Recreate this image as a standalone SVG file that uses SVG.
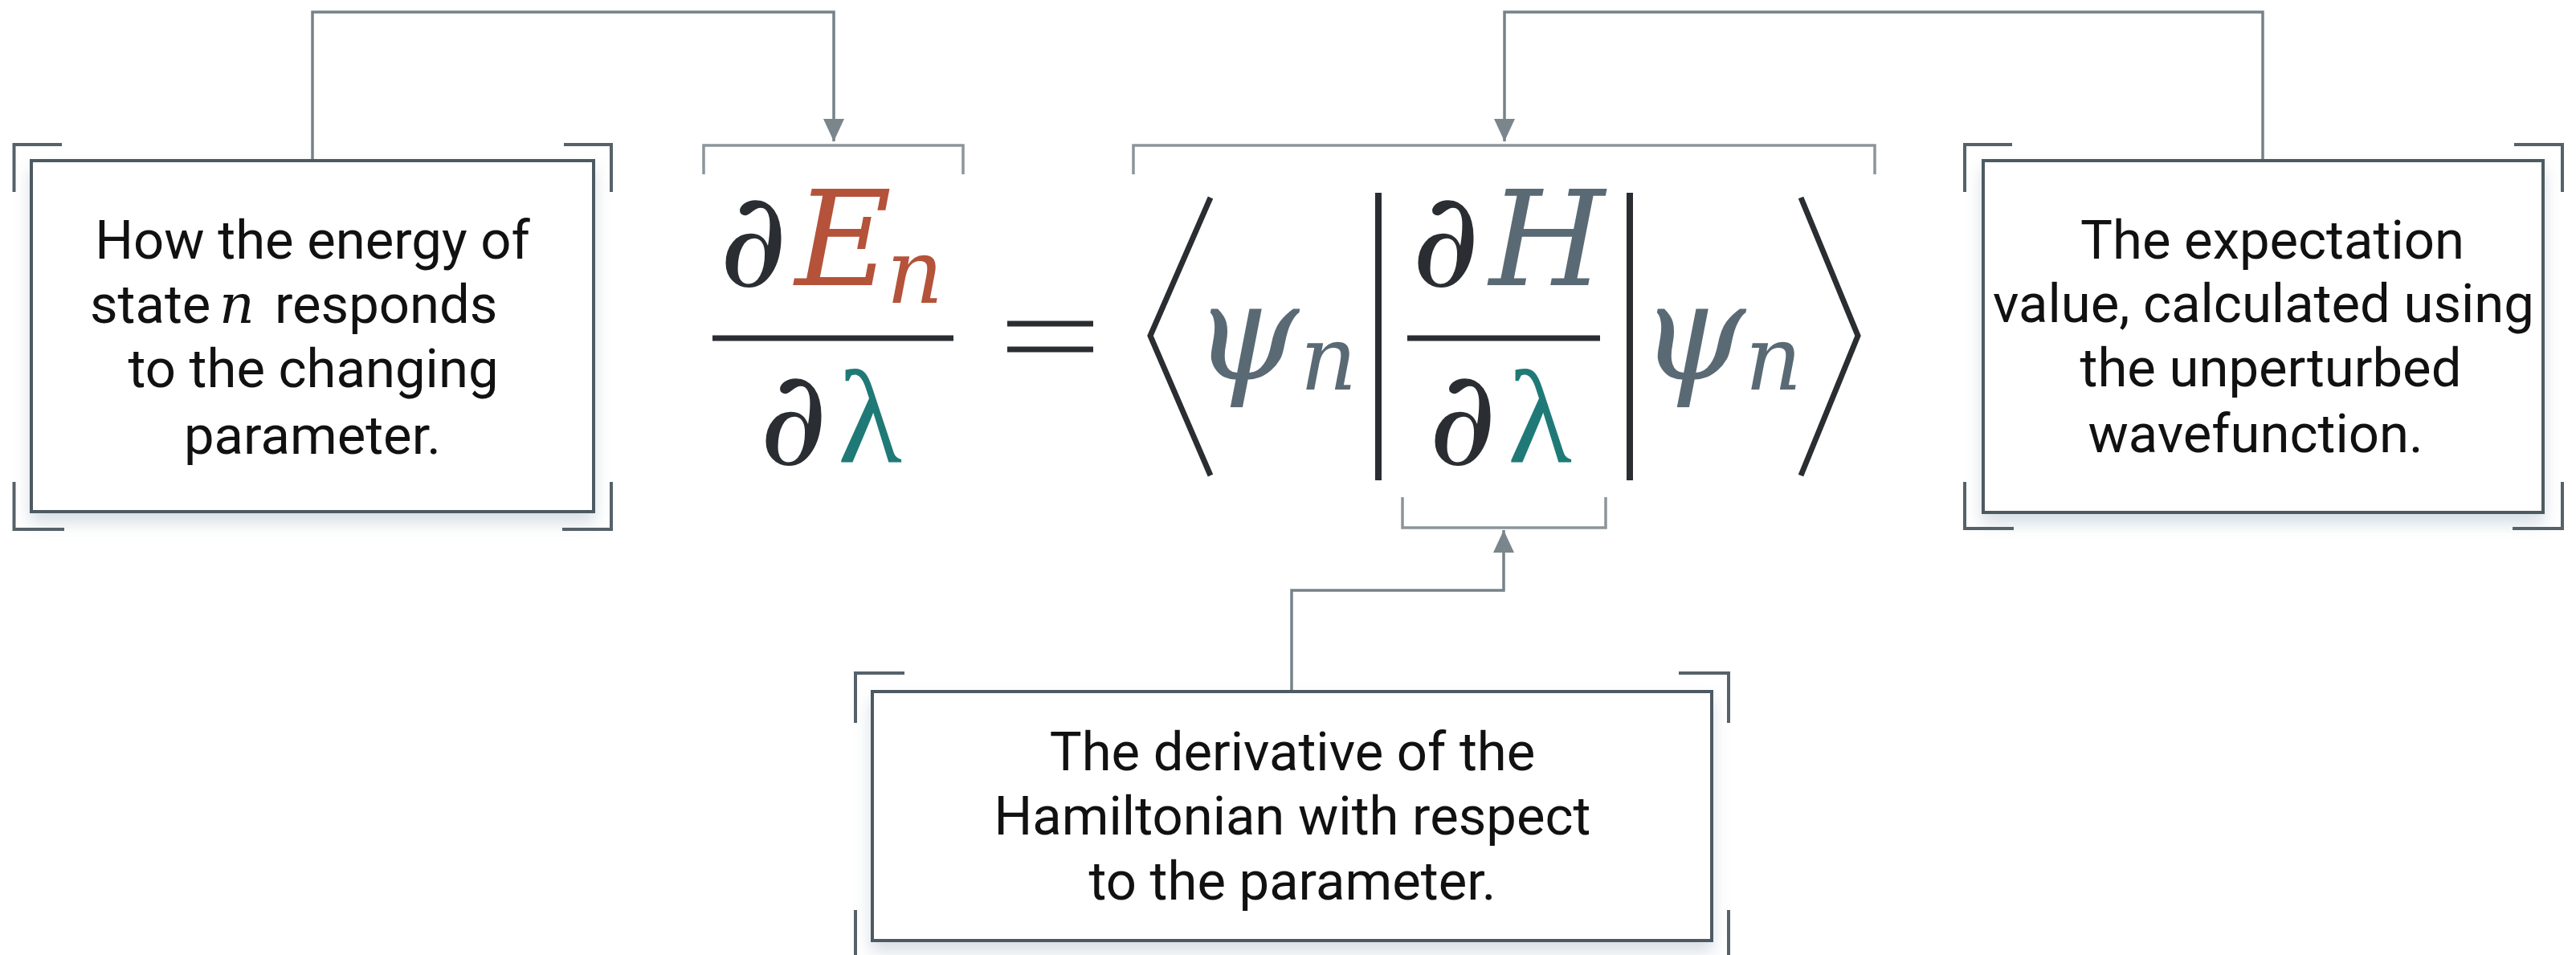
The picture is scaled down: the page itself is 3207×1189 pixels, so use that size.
<svg xmlns="http://www.w3.org/2000/svg" width="3207" height="1189" viewBox="0 0 3207 1189">
<defs>
<style>
.box{fill:#fff;stroke:#4e5a62;stroke-width:4}
.brk{fill:none;stroke:#56626a;stroke-width:4}
.lbl{font-family:Roboto,"Liberation Sans",sans-serif;font-size:67px;fill:#111;text-anchor:middle}
.lbls{font-family:Roboto,"Liberation Sans",sans-serif;font-size:67px;fill:#111;text-anchor:start}
.conn{fill:none;stroke:#76828a;stroke-width:3.5}
.eqb{fill:none;stroke:#8c959b;stroke-width:3.5}
.m{font-family:'DejaVu Serif',serif;font-style:italic;text-anchor:middle}
.u{font-family:'Liberation Serif',serif;font-style:normal;text-anchor:middle}
.big{font-size:165px}
.psi{font-size:168px}
.sub{font-size:110px}
.dk{fill:#2a2d31}
.red{fill:#b4533a}
.teal{fill:#1f7a77}
.sl{fill:#5a6a75}
.ink{fill:none;stroke:#2a2d31;stroke-width:7}
</style>
<filter id="sh" x="-10%" y="-10%" width="120%" height="140%">
<feDropShadow dx="0" dy="12" stdDeviation="10" flood-color="#8ea3b5" flood-opacity="0.35"/>
</filter>
<marker id="ah" viewBox="0 0 28 26" refX="28" refY="13" markerWidth="28" markerHeight="26" markerUnits="userSpaceOnUse" orient="auto">
<path d="M0,0 L28,13 L0,26 z" fill="#7b868c"/>
</marker>
</defs>
<rect width="3207" height="1189" fill="#fff"/>

<g id="connectors">
<path class="conn" d="M389,200 V15 H1038 V176" marker-end="url(#ah)"/>
<path class="conn" d="M2817,200 V15 H1873 V176" marker-end="url(#ah)"/>
<path class="conn" d="M1608,861 V735 H1872 V660" marker-end="url(#ah)"/>
</g>

<g id="node-left">
<rect class="box" x="39" y="200" width="700" height="437" filter="url(#sh)"/>
<path class="brk" d="M77,180 H17.5 V239 M702,180 H761 V239 M17.5,600 V659 H80 M700,659 H761 V600"/>
<text class="lbl" x="389" y="322">How the energy of</text>
<text class="lbls" x="112" y="402">state</text>
<text class="m" x="295" y="402" font-size="68" fill="#111">n</text>
<text class="lbls" x="342" y="402">responds</text>
<text class="lbl" x="390" y="482">to the changing</text>
<text class="lbl" x="389" y="565">parameter.</text>
</g>

<g id="node-right">
<rect class="box" x="2469" y="200" width="697" height="438" filter="url(#sh)"/>
<path class="brk" d="M2505,180 H2446 V239 M3130,180 H3190 V239 M2446,600 V658 H2507 M3128,658 H3190 V600"/>
<text class="lbl" x="2829" y="322">The expectation</text>
<text class="lbl" x="2818" y="401">value, calculated using</text>
<text class="lbl" x="2827" y="481">the unperturbed</text>
<text class="lbl" x="2808" y="563">wavefunction.</text>
</g>

<g id="node-bottom">
<rect class="box" x="1086" y="861" width="1045" height="310" filter="url(#sh)"/>
<path class="brk" d="M1126,838 H1065 V900 M2090,838 H2152 V900 M1065,1133 V1193 H1126 M2152,1133 V1193 H2090"/>
<text class="lbl" x="1609" y="959">The derivative of the</text>
<text class="lbl" x="1609" y="1039">Hamiltonian with respect</text>
<text class="lbl" x="1609" y="1120">to the parameter.</text>
</g>

<g id="equation">
<path class="eqb" d="M876,217 V181 H1199 V217"/>
<path class="eqb" d="M1411,217 V181 H2334 V217"/>
<path class="eqb" d="M1746,619 V657 H1999 V619"/>

<text class="m big dk" x="938" y="356">∂</text>
<text class="m big red" x="1050" y="355">E</text>
<text class="m sub red" x="1139" y="377">n</text>
<line x1="887" y1="421" x2="1187" y2="421" stroke="#2a2d31" stroke-width="7"/>
<text class="m big dk" x="988" y="578">∂</text>
<text class="u big teal" x="1083" y="575">λ</text>

<line x1="1254" y1="403" x2="1361" y2="403" stroke="#2a2d31" stroke-width="7"/>
<line x1="1254" y1="435" x2="1361" y2="435" stroke="#2a2d31" stroke-width="7"/>

<polyline class="ink" points="1507,246 1432,418 1507,592"/>
<text class="m psi sl" x="1551" y="472">ψ</text>
<text class="m sub sl" x="1654" y="485">n</text>
<line x1="1716" y1="240" x2="1716" y2="598" stroke="#2a2d31" stroke-width="8"/>

<text class="m big dk" x="1800" y="356">∂</text>
<text class="m big sl" x="1926" y="355">H</text>
<line x1="1752" y1="421" x2="1992" y2="421" stroke="#2a2d31" stroke-width="7"/>
<text class="m big dk" x="1821" y="578">∂</text>
<text class="u big teal" x="1917" y="575">λ</text>

<line x1="2029" y1="240" x2="2029" y2="598" stroke="#2a2d31" stroke-width="8"/>
<text class="m psi sl" x="2107" y="472">ψ</text>
<text class="m sub sl" x="2208" y="485">n</text>
<polyline class="ink" points="2242,246 2313,418 2242,592"/>
</g>
</svg>
